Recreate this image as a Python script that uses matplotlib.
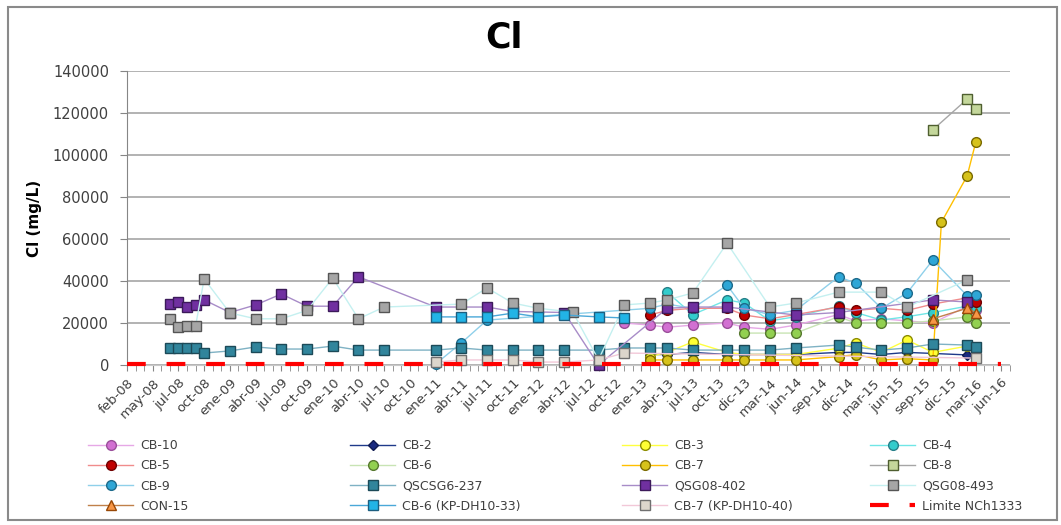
import matplotlib.pyplot as plt
from matplotlib.patches import Rectangle

plt.rcParams['font.family'] = ['DejaVu Sans']

# eje de categorias (fechas de muestreo), una etiqueta cada 3 categorias
etiquetas = ['feb-08', 'may-08', 'jul-08', 'oct-08', 'ene-09', 'abr-09', 'jul-09', 'oct-09',
             'ene-10', 'abr-10', 'jul-10', 'oct-10', 'ene-11', 'abr-11', 'jul-11', 'oct-11',
             'ene-12', 'abr-12', 'jul-12', 'oct-12', 'ene-13', 'abr-13', 'jul-13', 'oct-13',
             'dic-13', 'mar-14', 'jun-14', 'sep-14', 'dic-14', 'mar-15', 'jun-15', 'sep-15',
             'dic-15', 'mar-16', 'jun-16']
n_cat = 104
# posiciones (categoria) de las campañas con datos
muestreo = [5, 6, 7, 8, 9, 12, 15, 18, 21, 24, 27, 30,
            36, 39, 42, 45, 48, 51, 52, 55, 58, 61, 63, 66,
            70, 72, 75, 78, 83, 85, 88, 91, 94, 95, 98, 99]

N = None
cb10 = [N, N, N, N, N, N, N, N, N, N, N, N,
        N, N, N, N, N, N, N, N, 20000, 19000, 18000, 19000,
        20000, 18000, 17000, 19000, 24000, 21000, 22000, 21000, 20000, N, 28000, 26000]
cb2 = [N, N, N, N, N, N, N, N, N, N, N, N,
       N, N, N, N, N, N, N, N, N, 5000, 5000, 6000,
       5000, 5000, 5000, 5000, 6000, 6000, 5000, 6000, 5500, N, 4800, 6000]
cb3 = [N, N, N, N, N, N, N, N, N, N, N, N,
       N, N, N, N, N, N, N, N, N, 4000, 6000, 11000,
       6000, 5000, 5000, 5000, 8000, 10500, 6000, 11900, 6000, N, 9000, 8000]
cb4 = [N, N, N, N, N, N, N, N, N, N, N, N,
       N, N, N, N, N, N, N, N, N, N, 34700, 24000,
       31000, 29500, 21000, 23000, 28000, 25000, 21400, 23000, 25000, N, 28000, 27000]
cb5 = [N, N, N, N, N, N, N, N, N, N, N, N,
       N, N, N, N, N, N, N, N, N, 23800, 26000, 27000,
       27000, 23800, 22000, 24000, 27600, 26000, 27000, 26000, 29000, N, 32000, 30000]
cb6 = [N, N, N, N, N, N, N, N, N, N, N, N,
       N, N, N, N, N, N, N, N, N, N, N, N,
       N, 15200, 15200, 15200, 23000, 20000, 20000, 20000, 21000, N, 22900, 20000]
cb7 = [N, N, N, N, N, N, N, N, N, N, N, N,
       N, N, N, N, N, N, N, N, N, 2400, 2400, 2400,
       2400, 2400, 2400, 2400, 4000, 5000, 2400, 3000, 2400, 68000, 90000, 106000]
cb8 = [N, N, N, N, N, N, N, N, N, N, N, N,
       N, N, N, N, N, N, N, N, N, N, N, N,
       N, N, N, N, N, N, N, N, 112000, N, 126600, 122000]
cb9 = [N, N, N, N, N, N, N, N, N, N, N, N,
       500, 10500, 21400, N, N, N, N, N, N, 27000, 29000, 27000,
       38000, 27000, 24000, 26000, 42000, 39000, 27000, 34300, 50000, N, 33000, 33300]
qscsg6_237 = [8100, 8100, 8100, 8100, 5700, 6700, 8600, 7600, 7600, 9000, 7100, 7100,
              7100, 8100, 7100, 7100, 7100, 7100, N, 7100, 8100, 8100, 8100, 7100,
              7100, 7100, 7100, 8100, 9500, 8500, 7100, 8100, 10000, N, 9500, 8500]
qsg08_402 = [29000, 30000, 27600, 28600, 31000, 25000, 28600, 33800, 28000, 28000, 42000, N,
             27600, N, 27600, 25500, N, 25000, N, 0, N, N, 27000, 27600,
             27600, N, N, 23800, 25000, N, N, N, 31000, N, 30000, N]
qsg08_493 = [22000, 18000, 18600, 18600, 41000, 24800, 22000, 22000, 26000, 41400, 22000, 27600,
             N, 29000, 36700, 29500, 27000, N, 25200, 2500, 28600, 29500, 31000, 34300,
             58000, N, 27600, 29500, 34700, N, 34700, 27600, N, N, 40500, N]
con15 = [N, N, N, N, N, N, N, N, N, N, N, N,
         N, N, N, N, N, N, N, N, N, N, N, N,
         N, N, N, N, N, N, N, N, 22000, N, 27000, 25000]
cb6_kp = [N, N, N, N, N, N, N, N, N, N, N, N,
          22900, 22900, 22900, 24700, 22900, 23800, N, 22900, 22400, N, N, N,
          N, N, N, N, N, N, N, N, N, N, N, N]
cb7_kp = [N, N, N, N, N, N, N, N, N, N, N, N,
          1400, 2400, 2400, 2400, 1400, 1400, N, 2400, 5700, N, N, N,
          N, N, N, N, N, N, N, N, N, N, N, 3300]
limite_nch1333 = 250
limite_cat = list(range(0, 103))

series = [
    ('CB-10', cb10, dict(color='#e6a8e6', marker='o', mfc='#d270d2', mec='#9a4f9a')),
    ('CB-2', cb2, dict(color='#1f3a8a', marker='D', mfc='#1a2a80', mec='#0f1a50', ms=5.5)),
    ('CB-3', cb3, dict(color='#ffff40', marker='o', mfc='#ffff33', mec='#8c8c00')),
    ('CB-4', cb4, dict(color='#70e6e6', marker='o', mfc='#33cccc', mec='#267f88')),
    ('CB-5', cb5, dict(color='#f08c8c', marker='o', mfc='#c00000', mec='#700000')),
    ('CB-6', cb6, dict(color='#c8e4b4', marker='o', mfc='#92d050', mec='#56782e')),
    ('CB-7', cb7, dict(color='#ffc000', marker='o', mfc='#d6c21a', mec='#7a6a00')),
    ('CB-8', cb8, dict(color='#a6a6a6', marker='s', mfc='#c4d79b', mec='#4f5f30')),
    ('CB-9', cb9, dict(color='#8fd0ea', marker='o', mfc='#2ea6d6', mec='#1d6a8a')),
    ('QSCSG6-237', qscsg6_237, dict(color='#7fb2c4', marker='s', mfc='#31859c', mec='#1c4a58')),
    ('QSG08-402', qsg08_402, dict(color='#a88cc8', marker='s', mfc='#7030a0', mec='#3c1a5a')),
    ('QSG08-493', qsg08_493, dict(color='#c4f0f0', marker='s', mfc='#a6a6a6', mec='#555555')),
    ('CON-15', con15, dict(color='#c0804a', marker='^', mfc='#f79646', mec='#984807')),
    ('CB-6 (KP-DH10-33)', cb6_kp, dict(color='#4aa8d8', marker='s', mfc='#22b4e6', mec='#1d5f80')),
    ('CB-7 (KP-DH10-40)', cb7_kp, dict(color='#f2c8d8', marker='s', mfc='#dcd6cc', mec='#707070')),
]

fig = plt.figure(figsize=(10.61, 5.25), dpi=100)
ax = fig.add_axes([127 / 1061, 1 - 365 / 525, (1010 - 127) / 1061, (365 - 71) / 525])

handles = []
for z, (nombre, valores, estilo) in enumerate(series):
    xs = [p for p, v in zip(muestreo, valores) if v is not None]
    ys = [v for v in valores if v is not None]
    opts = dict(lw=1, ms=7, mew=1)
    opts.update(estilo)
    h, = ax.plot(xs, ys, label=nombre, clip_on=False, zorder=3 + z * 0.1, **opts)
    handles.append(h)

h, = ax.plot(limite_cat, [limite_nch1333] * len(limite_cat), color='#ff0000', lw=3,
             dashes=(4.5, 5), label='Limite NCh1333', clip_on=False, zorder=5)
handles.append(h)

ax.set_xlim(0, n_cat - 1)
ax.set_ylim(0, 140000)
ax.set_yticks(range(0, 140001, 20000))
ax.set_xticks(range(0, 3 * len(etiquetas), 3))
ax.set_xticklabels(etiquetas, rotation=45, ha='right', rotation_mode='anchor',
                   fontsize=9.5, color='#404040')
ax.set_xticks(range(0, n_cat), minor=True)
ax.tick_params(axis='y', labelsize=10.5, labelcolor='#404040', color='#868686', length=5, pad=8)
ax.tick_params(axis='x', which='both', color='#868686', length=4, pad=4)
ax.grid(axis='y', color='#a6a6a6', lw=1.2)
ax.set_axisbelow(True)
for s in ['top', 'right']:
    ax.spines[s].set_visible(False)
ax.spines['left'].set_color('#868686')
ax.spines['bottom'].set_color('#c8c8c8')
ax.set_ylabel('Cl (mg/L)', fontsize=11, fontweight='bold', labelpad=8)

fig.text(504 / 1061, 1 - 38 / 525, 'Cl', fontsize=25, fontweight='bold', ha='center', va='center')

# leyenda en 4 columnas, ordenada por filas
col_x = [88, 350, 622, 870]
for j in range(4):
    hs = [handles[j + 4 * i] for i in range(4)]
    fig.legend(handles=hs, loc='upper left', bbox_to_anchor=(col_x[j] / 1061, 1 - 439 / 525),
               frameon=False, fontsize=9, handlelength=3.6, handletextpad=0.55,
               borderpad=0, borderaxespad=0, labelspacing=0.58, labelcolor='#404040')

fig.patches.append(Rectangle((8 / 1061, 5 / 525), 1049 / 1061, 513 / 525, transform=fig.transFigure,
                             fill=False, edgecolor='#8a8a8a', lw=1.5))

fig.savefig('out.png', dpi=100)
